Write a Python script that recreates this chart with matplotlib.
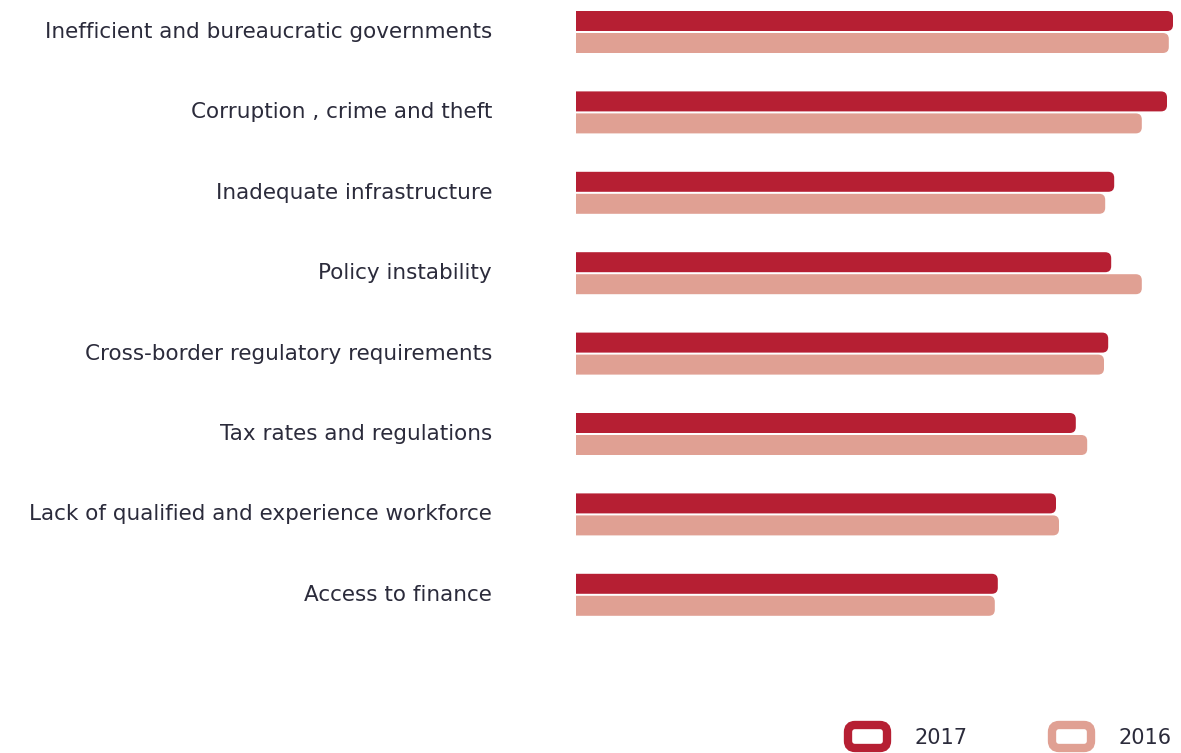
import matplotlib.pyplot as plt
from matplotlib.patches import FancyBboxPatch

categories = [
    "Inefficient and bureaucratic governments",
    "Corruption , crime and theft",
    "Inadequate infrastructure",
    "Policy instability",
    "Cross-border regulatory requirements",
    "Tax rates and regulations",
    "Lack of qualified and experience workforce",
    "Access to finance",
]
score_2017 = [99.5, 98.5, 89.7, 89.2, 88.7, 83.3, 80.0, 70.3]
score_2016 = [98.8, 94.3, 88.2, 94.3, 88.0, 85.2, 80.5, 69.8]

red = "#B61F33"
pink = "#E0A093"
text_col = "#2B2B3B"

W, H = 1181, 753
fig = plt.figure(figsize=(W / 100, H / 100), dpi=100)
x0 = 576
ax = fig.add_axes([x0 / W, 0, 1 - x0 / W, 1])
ax.set_xlim(0, (W - x0) / 6)
row_px = 80.4
top_px = 32
ax.set_ylim((H - top_px) / row_px, -top_px / row_px)
ax.axis("off")

bar_h = 20 / row_px
off = 11 / row_px
# data units per pixel on each axis, used to keep corners circular
ux = ((W - x0) / 6) / (W - x0)
uy = 1 / row_px
radius_px = 6
lead = 3 * radius_px * ux  # left end starts outside the axes, so it gets clipped square


def rounded_bar(y, val, color):
    p = FancyBboxPatch((-lead, y - bar_h / 2), val + lead, bar_h,
                       boxstyle=f"round,pad=0,rounding_size={radius_px * ux}",
                       mutation_aspect=uy / ux, fc=color, ec="none")
    ax.add_patch(p)
    p.set_clip_box(ax.bbox)


for i, (a, b) in enumerate(zip(score_2017, score_2016)):
    rounded_bar(i - off, a, red)
    rounded_bar(i + off, b, pink)
    fig.text(492 / W, 1 - (top_px + i * row_px) / H, categories[i],
             ha="right", va="center", fontsize=15.5, color=text_col,
             family="DejaVu Sans")

# legend
for (lx, label, color) in [(843, "2017", red), (1047, "2016", pink)]:
    fig.patches.append(FancyBboxPatch(((lx + 5) / W, 1 - 748 / H), 39 / W, 23 / H,
                                      boxstyle="round,pad=0,rounding_size=0.006",
                                      mutation_aspect=W / H,
                                      transform=fig.transFigure, fc="white",
                                      ec=color, lw=6, figure=fig))
    fig.text((lx + 72) / W, 1 - 738 / H, label, ha="left", va="center",
             fontsize=15, color=text_col, family="DejaVu Sans")

fig.savefig("out.png", dpi=100)
